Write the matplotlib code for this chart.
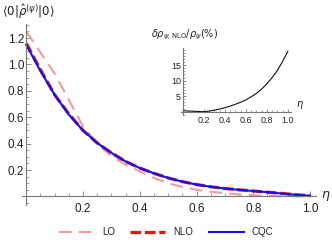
import matplotlib
matplotlib.use("Agg")
import matplotlib.pyplot as plt
from matplotlib.ticker import MultipleLocator, FixedLocator
import numpy as np

plt.rcParams['font.family'] = ['Liberation Sans', 'DejaVu Sans']
plt.rcParams['mathtext.fontset'] = 'dejavusans'

eta = [0.0, 0.05, 0.1, 0.15, 0.2, 0.25, 0.3, 0.35, 0.4, 0.45, 0.5,
       0.55, 0.6, 0.65, 0.7, 0.75, 0.8, 0.85, 0.9, 0.95, 1.0]
lo = [1.25, 1.09, 0.93, 0.73, 0.53, 0.40, 0.305, 0.24, 0.19, 0.14, 0.10,
      0.072, 0.05, 0.035, 0.024, 0.015, 0.008, 0.004, 0.002, 0.001, 0.0]
nlo = [1.16, 0.96, 0.77, 0.625, 0.50, 0.405, 0.33, 0.265, 0.215, 0.175, 0.14,
       0.112, 0.09, 0.073, 0.06, 0.05, 0.041, 0.032, 0.023, 0.013, 0.005]
cqc = [1.15, 0.95, 0.77, 0.62, 0.50, 0.405, 0.33, 0.265, 0.215, 0.175, 0.14,
       0.112, 0.09, 0.073, 0.06, 0.05, 0.041, 0.032, 0.022, 0.012, 0.005]

eta_in = [0.0, 0.05, 0.1, 0.15, 0.2, 0.25, 0.3, 0.35, 0.4, 0.45, 0.5,
          0.55, 0.6, 0.65, 0.7, 0.75, 0.8, 0.85, 0.9, 0.95, 1.0]
dev = [0.3, 0.22, 0.14, 0.06, 0.0, 0.2, 0.5, 0.85, 1.3, 1.8, 2.4,
       3.05, 3.8, 4.8, 5.9, 7.3, 9.0, 11.0, 13.3, 16.2, 19.5]

main_xticks = [0.2, 0.4, 0.6, 0.8, 1.0]
main_yticks = [0.2, 0.4, 0.6, 0.8, 1.0, 1.2]
in_xticks = [0.2, 0.4, 0.6, 0.8, 1.0]
in_yticks = [5, 10, 15]

W, H = 332, 244
fig = plt.figure(figsize=(W / 100, H / 100), dpi=100)

def frac(l, t, r, b):
    return [l / W, (H - b) / H, (r - l) / W, (b - t) / H]

axcol = '#777777'
txtcol = '#222222'

def style(ax, fs, majlen, minlen):
    for s in ['top', 'right']:
        ax.spines[s].set_visible(False)
    for s in ['left', 'bottom']:
        ax.spines[s].set_position(('data', 0))
        ax.spines[s].set_color(axcol)
        ax.spines[s].set_linewidth(0.8)
    ax.tick_params(which='major', direction='in', length=majlen, width=0.6,
                   color=axcol, labelsize=fs, labelcolor=txtcol)
    ax.tick_params(which='minor', direction='in', length=minlen, width=0.5,
                   color=axcol)
    ax.patch.set_visible(False)

# main axes
ax = fig.add_axes(frac(22, 23.5, 315.7, 205))
ax.plot(eta, lo, color='#f59a9a', lw=1.5, dashes=(6, 3.5), label='LO')
ax.plot(eta, nlo, color='#ee1111', lw=2.3, dashes=(3.3, 1.2), label='NLO')
ax.plot(eta, cqc, color='#1111ee', lw=1.5, label='CQC')
ax.set_xlim(-0.015, 1.02)
ax.set_ylim(-0.065, 1.31)
style(ax, 8.5, 3.5, 2)
ax.xaxis.set_major_locator(FixedLocator(main_xticks))
ax.yaxis.set_major_locator(FixedLocator(main_yticks))
ax.xaxis.set_minor_locator(MultipleLocator(0.05))
ax.yaxis.set_minor_locator(MultipleLocator(0.05))
ax.tick_params(axis='x', which='major', pad=5)
ax.tick_params(axis='y', which='major', pad=1.5)
ax.xaxis.set_major_formatter(matplotlib.ticker.FormatStrFormatter('%.1f'))
ax.yaxis.set_major_formatter(matplotlib.ticker.FormatStrFormatter('%.1f'))
ax.text(1.035, 0.0, r'$\eta$', transform=ax.get_yaxis_transform(),
        fontsize=9, color=txtcol, ha='center', va='center')
fig.text(2 / W, 1 - 12 / H, r'$\langle 0|\hat{\rho}^{(\psi)}|0\rangle$',
         fontsize=8.5, color=txtcol, ha='left', va='center')

# inset
ai = fig.add_axes(frac(180.9, 48.1, 291, 114.8))
ai.plot(eta_in, dev, color='#111111', lw=0.8)
ai.set_xlim(-0.02, 1.03)
ai.set_ylim(-1.0, 20.5)
style(ai, 6.5, 2.5, 1.3)
ai.xaxis.set_major_locator(FixedLocator(in_xticks))
ai.yaxis.set_major_locator(FixedLocator(in_yticks))
ai.xaxis.set_minor_locator(MultipleLocator(0.05))
ai.yaxis.set_minor_locator(MultipleLocator(1))
ai.tick_params(axis='x', which='major', pad=3)
ai.tick_params(axis='y', which='major', pad=1.5)
ai.xaxis.set_major_formatter(matplotlib.ticker.FormatStrFormatter('%.1f'))
ai.text(1.085, 2.2, r'$\eta$', transform=ai.get_yaxis_transform(),
        fontsize=7, color=txtcol, ha='center', va='center')
fig.text(151 / W, 1 - 35 / H, r'$\delta\rho_{\psi,\mathrm{NLO}}/\rho_{\psi}(\%)$',
         fontsize=7, color=txtcol, ha='left', va='center')

leg = fig.legend(loc='center', bbox_to_anchor=(166 / W, 1 - 232 / H), ncol=3,
                 frameon=False, fontsize=7, handlelength=3.6, handletextpad=0.8,
                 columnspacing=1.6, labelcolor=txtcol)

fig.savefig('out.png', dpi=100)
